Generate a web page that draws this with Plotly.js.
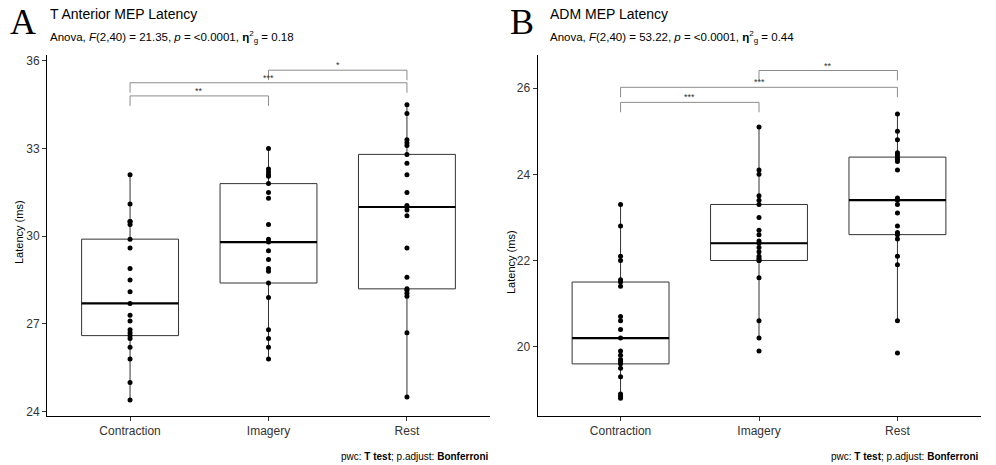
<!DOCTYPE html>
<html><head><meta charset="utf-8">
<script src="https://cdn.plot.ly/plotly-3.0.1.min.js"></script>
<style>html,body{margin:0;padding:0;background:#fff}#chart{width:996px;height:465px}</style>
</head><body><div id="chart"></div>
<script>
// ---------- data ----------
const categories = ["Contraction", "Imagery", "Rest"];

// Panel A: T Anterior MEP latency (ms), 21 subjects per condition
const taContraction = [24.4, 25.0, 25.8, 26.2, 26.5, 26.6, 26.7, 26.8, 27.1, 27.3, 27.7, 28.1, 28.5, 28.9, 29.6, 29.9, 30.4, 30.5, 30.5, 31.1, 32.1];
const taImagery     = [25.8, 26.2, 26.5, 26.8, 27.9, 28.4, 28.8, 28.9, 29.2, 29.5, 29.8, 29.9, 30.4, 31.3, 31.5, 31.8, 32.05, 32.1, 32.2, 32.3, 33.0];
const taRest        = [24.5, 26.7, 27.95, 28.05, 28.15, 28.2, 28.6, 29.6, 30.7, 30.9, 31.0, 31.05, 31.5, 32.1, 32.5, 32.8, 33.1, 33.2, 33.3, 34.2, 34.5];

// Panel B: ADM MEP latency (ms)
const admContraction = [18.8, 18.85, 18.9, 19.3, 19.5, 19.6, 19.65, 19.7, 19.8, 19.9, 20.2, 20.4, 20.6, 20.7, 21.4, 21.5, 21.55, 22.0, 22.1, 22.8, 23.3];
const admImagery     = [19.9, 20.2, 20.6, 21.6, 22.0, 22.0, 22.05, 22.1, 22.2, 22.3, 22.4, 22.45, 22.6, 22.7, 23.0, 23.3, 23.4, 23.5, 24.0, 24.1, 25.1];
const admRest        = [19.85, 20.6, 21.9, 22.1, 22.5, 22.6, 22.65, 22.8, 23.1, 23.3, 23.4, 23.45, 24.1, 24.3, 24.35, 24.4, 24.45, 24.5, 24.8, 25.0, 25.4];

// tick labels
const taTicks = [24, 27, 30, 33, 36];
const admTicks = [20, 22, 24, 26];

// pairwise comparisons (T test, Bonferroni)
const comparisonPairs = [["Contraction", "Imagery"], ["Contraction", "Rest"], ["Imagery", "Rest"]];
const taSignif  = ["**", "***", "*"];
const admSignif = ["***", "***", "**"];
const taBracketY  = [34.80, 35.25, 35.68];
const admBracketY = [25.67, 26.02, 26.41];

const titles = ["T Anterior MEP Latency", "ADM MEP Latency"];
const anovaF = ["21.35", "53.22"];
const anovaP = ["&lt;0.0001", "&lt;0.0001"];
const anovaGes = ["0.18", "0.44"];

// ---------- helpers ----------
function quantile7(arr, q) {
  const s = arr.slice().sort((a, b) => a - b);
  const h = (s.length - 1) * q, lo = Math.floor(h), hi = Math.ceil(h);
  return s[lo] + (h - lo) * (s[hi] - s[lo]);
}
function boxStats(g) {
  const q1 = quantile7(g, 0.25), med = quantile7(g, 0.5), q3 = quantile7(g, 0.75);
  const iqr = q3 - q1;
  const inside = g.filter(v => v >= q1 - 1.5 * iqr && v <= q3 + 1.5 * iqr);
  return {q1, med, q3, lf: Math.min(...inside), uf: Math.max(...inside)};
}

const boxColor = "#333333";
const FONT = "Liberation Sans, Arial, sans-serif";

function panelTraces(groups, xa, ya) {
  const st = groups.map(boxStats);
  const box = {
    type: "box", x: categories, xaxis: xa, yaxis: ya,
    q1: st.map(s => s.q1), median: st.map(s => s.med), q3: st.map(s => s.q3),
    lowerfence: st.map(s => s.lf), upperfence: st.map(s => s.uf),
    boxpoints: false, width: 0.7, whiskerwidth: 0,
    fillcolor: "rgba(255,255,255,1)",
    line: {color: boxColor, width: 1},
    hoverinfo: "skip", showlegend: false
  };
  const xs = [], ys = [];
  groups.forEach((g, i) => g.forEach(v => { xs.push(categories[i]); ys.push(v); }));
  const pts = {
    type: "scatter", mode: "markers", x: xs, y: ys, xaxis: xa, yaxis: ya,
    marker: {color: "#000000", size: 5, line: {width: 0}},
    hoverinfo: "skip", showlegend: false
  };
  return [box, pts, st];
}

const shapes = [];
const annotations = [];

function addMedians(st, xref, yref) {
  st.forEach((s, i) => {
    shapes.push({type: "line", xref: xref, yref: yref, x0: i - 0.35, x1: i + 0.35, y0: s.med, y1: s.med,
      line: {color: "#000000", width: 2.2}, layer: "above"});
  });
}

function addBrackets(bracketY, signif, tip, xref, yref) {
  comparisonPairs.forEach((pair, k) => {
    const a = categories.indexOf(pair[0]), b = categories.indexOf(pair[1]);
    const y = bracketY[k];
    const ln = {color: "#8c8c8c", width: 1};
    shapes.push({type: "line", xref, yref, x0: a, x1: b, y0: y, y1: y, line: ln});
    shapes.push({type: "line", xref, yref, x0: a, x1: a, y0: y, y1: y - tip, line: ln});
    shapes.push({type: "line", xref, yref, x0: b, x1: b, y0: y, y1: y - tip, line: ln});
    annotations.push({xref, yref, x: (a + b) / 2, y: y, text: signif[k], showarrow: false,
      yanchor: "bottom", yshift: -2, font: {family: FONT, size: 9, color: "#333"}});
  });
}

const taGroups = [taContraction, taImagery, taRest];
const admGroups = [admContraction, admImagery, admRest];

const [taBox, taPts, taSt] = panelTraces(taGroups, "x", "y");
const [admBox, admPts, admSt] = panelTraces(admGroups, "x2", "y2");

addMedians(taSt, "x", "y");
addMedians(admSt, "x2", "y2");
addBrackets(taBracketY, taSignif, 0.34, "x", "y");
addBrackets(admBracketY, admSignif, 0.23, "x2", "y2");

// titles & captions
const W = 996, H = 465;
function px(x) { return x / W; }
function py(y) { return 1 - y / H; }

[[8, 0, "A"], [508, 1, "B"]].forEach(([x0, i, letter]) => {
  annotations.push({xref: "paper", yref: "paper", x: px(x0), y: py(44), xanchor: "left", yanchor: "bottom",
    text: letter, showarrow: false, font: {family: "Liberation Serif, Times New Roman, serif", size: 36, color: "#000"}});
  annotations.push({xref: "paper", yref: "paper", x: px(x0 + 40), y: py(4), xanchor: "left", yanchor: "top",
    text: titles[i], showarrow: false, font: {family: FONT, size: 14, color: "#000"}});
  annotations.push({xref: "paper", yref: "paper", x: px(x0 + 40), y: py(27), xanchor: "left", yanchor: "top",
    text: "Anova, <i>F</i>(2,40) = " + anovaF[i] + ", <i>p</i> = " + anovaP[i] + ", <b>η</b><sup>2</sup><sub>g</sub> = " + anovaGes[i],
    showarrow: false, font: {family: FONT, size: 11.5, color: "#000"}});
});

[490, 980].forEach(xr => {
  annotations.push({xref: "paper", yref: "paper", x: px(xr), y: py(456), xanchor: "right", yanchor: "middle",
    text: "pwc: <b>T test</b>; p.adjust: <b>Bonferroni</b>", showarrow: false,
    font: {family: FONT, size: 10, color: "#000"}});
});

annotations.push({xref: "paper", yref: "paper", x: px(19), y: py(232), xanchor: "center", yanchor: "middle",
  text: "Latency (ms)", textangle: -90, showarrow: false, font: {family: FONT, size: 11, color: "#000"}});
annotations.push({xref: "paper", yref: "paper", x: px(511), y: py(262), xanchor: "center", yanchor: "middle",
  text: "Latency (ms)", textangle: -90, showarrow: false, font: {family: FONT, size: 11, color: "#000"}});

const xCommon = {
  type: "category", categoryorder: "array", categoryarray: categories,
  range: [-0.6, 2.6], showline: true, linecolor: "#000", linewidth: 1,
  ticks: "outside", ticklen: 4, tickcolor: "#333", showgrid: false, zeroline: false,
  tickfont: {family: FONT, size: 12, color: "#333"}, fixedrange: true
};
const yCommon = {
  showline: true, linecolor: "#000", linewidth: 1, ticks: "outside", ticklen: 4, tickcolor: "#333",
  showgrid: false, zeroline: false, tickmode: "array",
  tickfont: {family: FONT, size: 12, color: "#333"}, fixedrange: true
};

const yDom = [py(416), py(55)];
const layout = {
  width: W, height: H, margin: {l: 0, r: 0, t: 0, b: 0},
  paper_bgcolor: "#fff", plot_bgcolor: "#fff", showlegend: false,
  xaxis: Object.assign({}, xCommon, {domain: [px(47), px(490)], anchor: "y"}),
  yaxis: Object.assign({}, yCommon, {domain: yDom, range: [23.85, 36.2], tickvals: taTicks, ticktext: taTicks.map(String), anchor: "x"}),
  xaxis2: Object.assign({}, xCommon, {domain: [px(537.5), px(980.5)], anchor: "y2"}),
  yaxis2: Object.assign({}, yCommon, {domain: yDom, range: [18.39, 26.77], tickvals: admTicks, ticktext: admTicks.map(String), anchor: "x2"}),
  shapes: shapes, annotations: annotations
};

Plotly.newPlot("chart", [taBox, taPts, admBox, admPts], layout, {staticPlot: true});
</script></body></html>
